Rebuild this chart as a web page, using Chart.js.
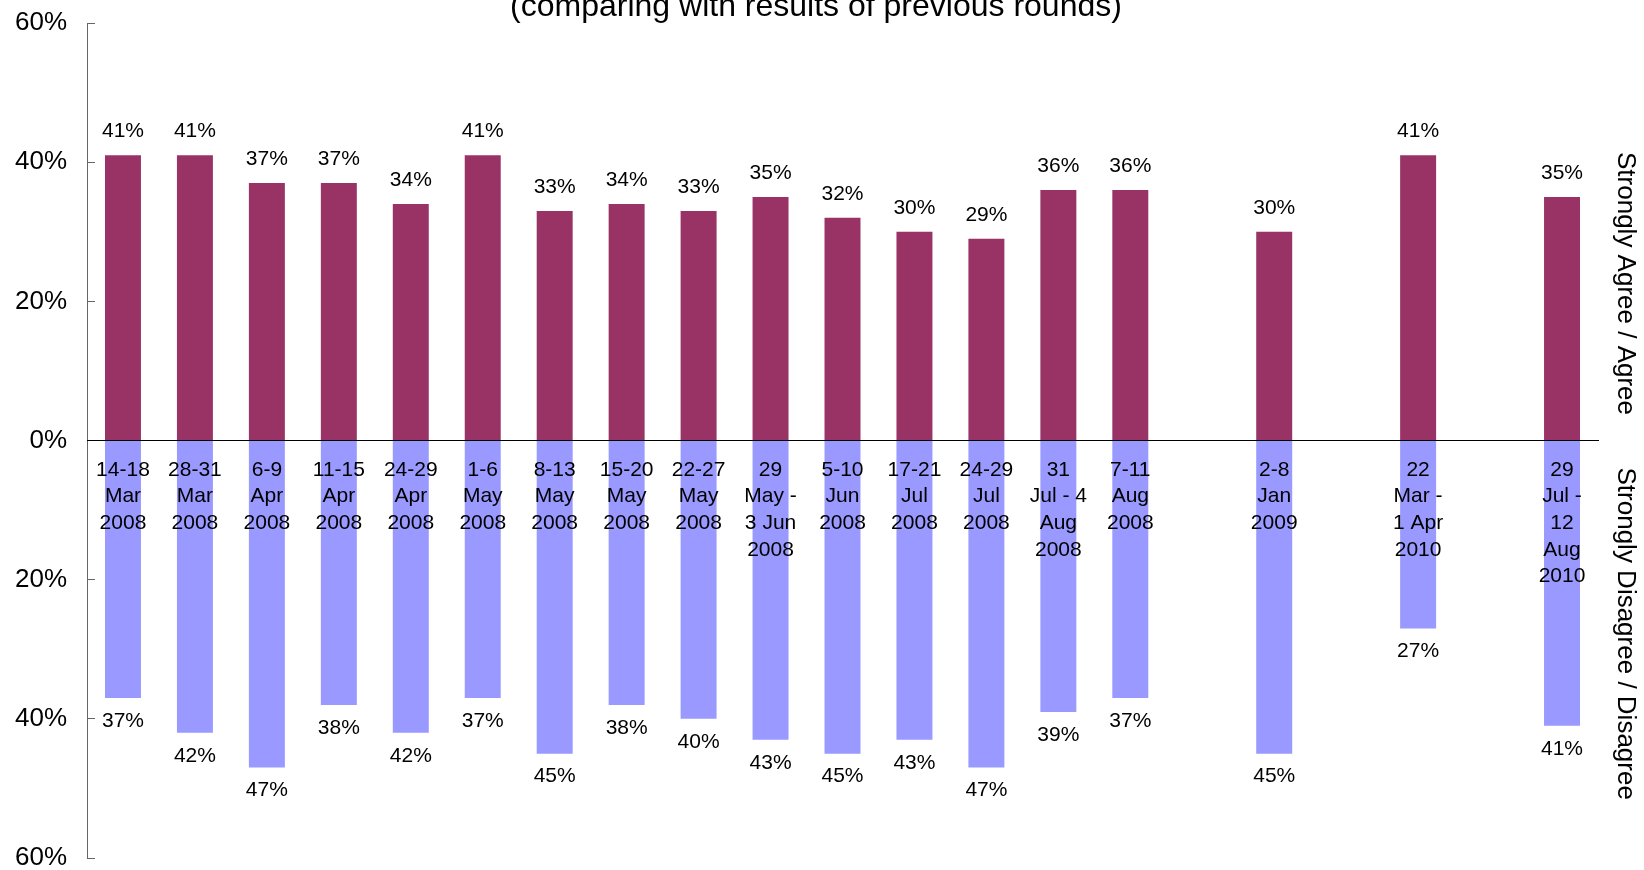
<!DOCTYPE html>
<html>
<head>
<meta charset="utf-8">
<script src="https://cdn.jsdelivr.net/npm/chart.js@4.4.0/dist/chart.umd.min.js"></script>
<style>
  html, body { margin: 0; padding: 0; background: #fff; }
  canvas { display: block; }
</style>
</head>
<body>
<canvas id="roundsChart" width="1644" height="870"></canvas>
<script>
// Survey rounds, empty entries leave a gap between the later rounds
const rounds = [
    ['14-18', 'Mar', '2008'],
    ['28-31', 'Mar', '2008'],
    ['6-9', 'Apr', '2008'],
    ['11-15', 'Apr', '2008'],
    ['24-29', 'Apr', '2008'],
    ['1-6', 'May', '2008'],
    ['8-13', 'May', '2008'],
    ['15-20', 'May', '2008'],
    ['22-27', 'May', '2008'],
    ['29', 'May -', '3 Jun', '2008'],
    ['5-10', 'Jun', '2008'],
    ['17-21', 'Jul', '2008'],
    ['24-29', 'Jul', '2008'],
    ['31', 'Jul - 4', 'Aug', '2008'],
    ['7-11', 'Aug', '2008'],
    '',
    ['2-8', 'Jan', '2009'],
    '',
    ['22', 'Mar -', '1 Apr', '2010'],
    '',
    ['29', 'Jul -', '12', 'Aug', '2010']
]

// Strongly agree / agree (%)
const agreeValues = [41, 41, 37, 37, 34, 41, 33, 34, 33, 35, 32, 30, 29, 36, 36, null, 30, null, 41, null, 35]
// Strongly disagree / disagree (%)
const disagreeValues = [37, 42, 47, 38, 42, 37, 45, 38, 40, 43, 45, 43, 47, 39, 37, null, 45, null, 27, null, 41]

const yTicks = [-60, -40, -20, 0, 20, 40, 60]

const titleText = '(comparing with results of previous rounds)'
const agreeTitle = 'Strongly Agree / Agree'
const disagreeTitle = 'Strongly Disagree / Disagree'

const fontFamily = '"Liberation Sans", Arial, sans-serif'
Chart.defaults.font.family = fontFamily
Chart.defaults.color = '#000'

// Percent labels at the end of each bar
const barLabels = {
    id: 'barLabels',
    afterDatasetsDraw(chart) {
        const ctx = chart.ctx
        ctx.save()
        ctx.font = '21px ' + fontFamily
        ctx.fillStyle = '#000'
        ctx.textAlign = 'center'
        ctx.textBaseline = 'middle'
        chart.data.datasets.forEach((dataset, i) => {
            chart.getDatasetMeta(i).data.forEach((bar, index) => {
                const value = dataset.data[index]
                if (value === null || value === undefined) return
                const y = value >= 0 ? bar.y - 24 : bar.y + 23
                ctx.fillText(Math.abs(value) + '%', bar.x, y)
            })
        })
        ctx.restore()
    }
}

// Heading line and the two rotated titles on the right
const chartTexts = {
    id: 'chartTexts',
    afterDraw(chart) {
        const ctx = chart.ctx
        const area = chart.chartArea
        const zero = chart.scales.y.getPixelForValue(0)
        ctx.save()
        ctx.fillStyle = '#000'

        ctx.font = '32px ' + fontFamily
        ctx.textAlign = 'center'
        ctx.textBaseline = 'alphabetic'
        ctx.fillText(titleText, 816, 16)

        ctx.font = '26px ' + fontFamily
        ctx.textAlign = 'left'
        ctx.textBaseline = 'middle'
        const x = area.right + 27
        ;[[agreeTitle, area.top + 129], [disagreeTitle, zero + 27]].forEach(([text, y]) => {
            ctx.save()
            ctx.translate(x, y)
            ctx.rotate(Math.PI / 2)
            ctx.fillText(text, 0, 0)
            ctx.restore()
        })
        ctx.restore()
    }
}

const data = {
    labels: rounds,
    datasets: [{
        label: agreeTitle,
        backgroundColor: '#993366',
        data: agreeValues,
    },
    {
        label: disagreeTitle,
        backgroundColor: '#9999FF',
        data: disagreeValues.map(v => v === null ? null : -v),
    }]
}

const config = {
    type: 'bar',
    data,
    options: {
        responsive: false,
        animation: false,
        devicePixelRatio: 1,
        categoryPercentage: 1,
        barPercentage: 0.5,
        layout: {
            padding: { left: 0, top: 23, right: 46, bottom: 12 }
        },
        scales: {
            x: {
                position: { y: 0 },
                stacked: true,
                offset: true,
                grid: { display: false, drawTicks: false },
                border: { display: true, color: '#000', width: 1, z: 1 },
                ticks: {
                    autoSkip: false,
                    maxRotation: 0,
                    minRotation: 0,
                    padding: 16,
                    color: '#000',
                    font: { size: 21, lineHeight: 1.27 },
                    z: 1
                }
            },
            y: {
                stacked: true,
                min: -60,
                max: 60,
                afterFit(scale) {
                    // fixed axis width, end labels may hang over the edges
                    scale.width = 87
                    scale.paddingTop = 0
                    scale.paddingBottom = 0
                },
                afterBuildTicks(scale) { scale.ticks = yTicks.map(v => ({ value: v })) },
                grid: { drawOnChartArea: false, drawTicks: true, tickLength: -8, color: '#666' },
                border: { color: '#666', width: 1 },
                ticks: {
                    padding: 28,
                    color: '#000',
                    font: { size: 26, lineHeight: 0.8 },
                    callback: v => Math.abs(v) + '%'
                }
            }
        },
        plugins: {
            legend: { display: false },
            tooltip: { enabled: false },
            title: { display: false }
        }
    },
    plugins: [barLabels, chartTexts]
}

const roundsChart = new Chart(document.getElementById('roundsChart'), config)
</script>
</body>
</html>
